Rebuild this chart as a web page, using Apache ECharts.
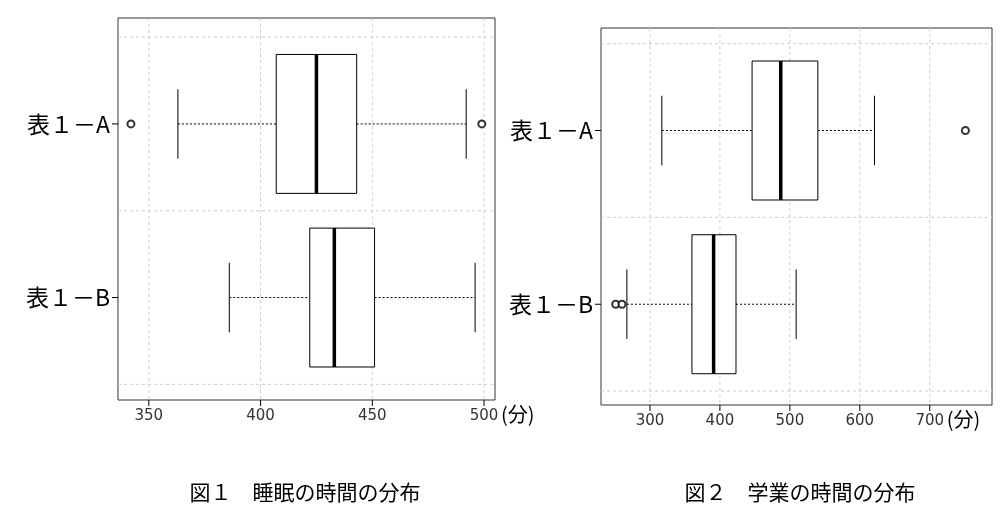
<!DOCTYPE html>
<html><head><meta charset="utf-8">
<script src="https://cdn.jsdelivr.net/npm/echarts@6/dist/echarts.min.js"></script>
<style>html,body{margin:0;background:#fff}#c{width:1000px;height:521px}</style>
</head><body><div id="c"></div>
<script>
const categories = ['表１－B', '表１－A'];
// [min whisker, Q1, median, Q3, max whisker]
const sleepBoxes = [[386, 422, 433, 451, 496], [363, 407, 425, 443, 492]];
const sleepOutliers = [[342, 2], [499, 2]];
const studyBoxes = [[267, 360, 391, 423, 509], [317, 446, 487, 540, 621]];
const studyOutliers = [[251, 1], [260, 1], [751, 2]];
const sleepTicks = [350, 400, 450, 500];
const studyTicks = [300, 400, 500, 600, 700];
const titles = ['図１　睡眠の時間の分布', '図２　学業の時間の分布'];

const font = '"Noto Sans CJK JP", "DejaVu Serif", serif';
const chart = echarts.init(document.getElementById('c'));

function boxRender(params, api) {
  const y = api.value(0);
  const v = [1,2,3,4,5].map(i => api.value(i));
  const p = v.map(x => api.coord([x, y]));
  const h = api.size([0, 0.8])[1];
  const cy = p[0][1];
  const st = {stroke: '#000', fill: 'none', lineWidth: 1};
  return {type: 'group', children: [
    {type: 'line', shape: {x1: p[0][0], y1: cy, x2: p[1][0], y2: cy}, style: {stroke: '#000', lineDash: [2, 2], lineWidth: 1}},
    {type: 'line', shape: {x1: p[3][0], y1: cy, x2: p[4][0], y2: cy}, style: {stroke: '#000', lineDash: [2, 2], lineWidth: 1}},
    {type: 'line', shape: {x1: p[0][0], y1: cy - h/4, x2: p[0][0], y2: cy + h/4}, style: st},
    {type: 'line', shape: {x1: p[4][0], y1: cy - h/4, x2: p[4][0], y2: cy + h/4}, style: st},
    {type: 'rect', shape: {x: p[1][0], y: cy - h/2, width: p[3][0] - p[1][0], height: h}, style: {stroke: '#000', fill: '#fff', lineWidth: 1}},
    {type: 'line', shape: {x1: p[2][0], y1: cy - h/2, x2: p[2][0], y2: cy + h/2}, style: {stroke: '#000', lineWidth: 3.5}}
  ]};
}
function gridLinesRender(params, api) {
  const y = api.value(0);
  const xmin = api.value(1), xmax = api.value(2);
  const a = api.coord([xmin, y]), b = api.coord([xmax, y]);
  return {type: 'line', shape: {x1: a[0], y1: a[1], x2: b[0], y2: b[1]}, style: {stroke: '#ccc', lineDash: [3, 3], lineWidth: 1}};
}
function labelRender(params, api) {
  const y = api.value(0);
  const a = api.coord([api.value(1), y]);
  return {type: 'group', children: [
    {type: 'line', shape: {x1: a[0] - 6, y1: a[1], x2: a[0], y2: a[1]}, style: {stroke: '#000', lineWidth: 1}},
    {type: 'text', x: a[0] - 8, y: a[1], style: {text: categories[y - 1], font: '23px ' + font, fill: '#000', align: 'right', verticalAlign: 'middle'}}
  ]};
}

function axes(idx, min, max, ymin, ymax) {
  return {
    x: {gridIndex: idx, type: 'value', min: min, max: max,
      axisLine: {show: false}, axisTick: {show: false}, splitLine: {show: false},
      axisLabel: {show: false}},
    y: {gridIndex: idx, type: 'value', min: ymin, max: ymax, show: false}
  };
}
const a1 = axes(0, 336.2, 504.9, 0.41, 2.61);
const a2 = axes(1, 230, 789, 0.42, 2.59);
const series = [];
function addChart(idx, boxes, outliers, ticks, xmin, xmax) {
  series.push({type: 'custom', xAxisIndex: idx, yAxisIndex: idx, renderItem: gridLinesRender, data: [[0.5, xmin, xmax], [1.5, xmin, xmax], [2.5, xmin, xmax]], silent: true, z: 1});
  series.push({type: 'custom', xAxisIndex: idx, yAxisIndex: idx, silent: true, z: 1,
    renderItem: function (params, api) {
      const x = api.value(0), last = api.value(1);
      const t = api.coord([x, 0.0]);
      const top = params.coordSys.y, bot = params.coordSys.y + params.coordSys.height;
      const ch = [
        {type: 'line', shape: {x1: t[0], y1: top, x2: t[0], y2: bot}, style: {stroke: '#ccc', lineDash: [3, 3]}},
        {type: 'line', shape: {x1: t[0], y1: bot, x2: t[0], y2: bot + 6}, style: {stroke: '#000'}},
        {type: 'text', x: t[0], y: bot + 9, style: {text: String(x), font: '15px "DejaVu Sans", sans-serif', fill: '#333', align: 'center', verticalAlign: 'top'}}
      ];
      if (last) ch.push({type: 'text', x: t[0] + 17, y: bot + 4, style: {text: '(分)', font: '20px ' + font, fill: '#000', align: 'left', verticalAlign: 'top'}});
      return {type: 'group', children: ch};
    },
    data: ticks.map((t, i) => [t, i === ticks.length - 1 ? 1 : 0])});
  series.push({type: 'custom', xAxisIndex: idx, yAxisIndex: idx, renderItem: boxRender, z: 3,
    encode: {x: [1, 2, 3, 4, 5], y: 0},
    data: boxes.map((b, i) => [i + 1].concat(b))});
  series.push({type: 'scatter', xAxisIndex: idx, yAxisIndex: idx, symbol: 'emptyCircle', symbolSize: 7, z: 4,
    itemStyle: {color: '#000', borderColor: '#000', borderWidth: 1}, data: outliers});
  series.push({type: 'custom', xAxisIndex: idx, yAxisIndex: idx, renderItem: labelRender, z: 4,
    data: [[1, xmin], [2, xmin]]});
}
addChart(0, sleepBoxes, sleepOutliers, sleepTicks, 336.2, 504.9);
addChart(1, studyBoxes, studyOutliers, studyTicks, 230, 789);

chart.setOption({
  animation: false,
  grid: [
    {left: 118, width: 377, top: 18, height: 382, show: true, borderColor: '#333', borderWidth: 1, backgroundColor: 'transparent'},
    {left: 601, width: 391, top: 28, height: 377, show: true, borderColor: '#333', borderWidth: 1, backgroundColor: 'transparent'}
  ],
  xAxis: [a1.x, a2.x],
  yAxis: [a1.y, a2.y],
  graphic: [
    {type: 'text', x: 305, y: 492, style: {text: titles[0], font: '21px ' + font, fill: '#000', align: 'center', verticalAlign: 'middle'}},
    {type: 'text', x: 800, y: 492, style: {text: titles[1], font: '21px ' + font, fill: '#000', align: 'center', verticalAlign: 'middle'}}
  ],
  series: series
});
</script></body></html>
